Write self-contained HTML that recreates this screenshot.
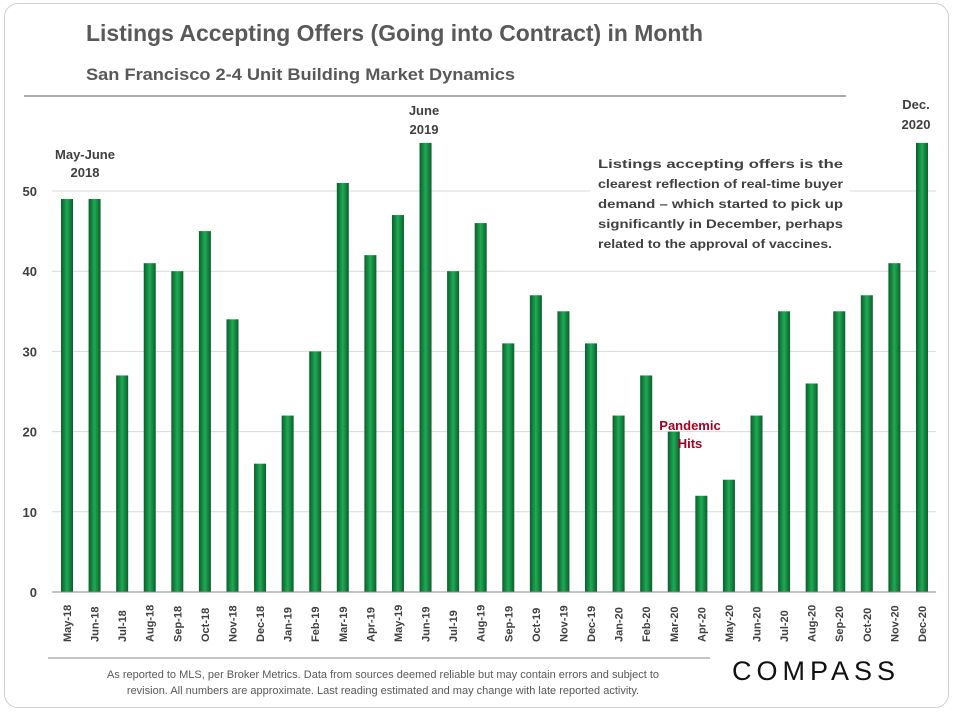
<!DOCTYPE html>
<html><head><meta charset="utf-8">
<style>
body{margin:0;background:#fff;width:953px;height:712px;overflow:hidden;font-family:"Liberation Sans",sans-serif;}
#frame{position:absolute;left:4px;top:3px;width:943px;height:703px;border:1px solid #cfcfcf;border-radius:14px;}
</style></head><body>
<div id="frame"></div>
<svg width="953" height="712" style="position:absolute;left:0;top:0">
<defs>
<linearGradient id="g" x1="0" x2="1" y1="0" y2="0">
<stop offset="0" stop-color="#0a5e2a"/><stop offset="0.5" stop-color="#1faa55"/><stop offset="1" stop-color="#0a5e2a"/>
</linearGradient>
</defs>
<text x="86" y="41" font-size="23" font-weight="bold" fill="#595959" textLength="617" lengthAdjust="spacingAndGlyphs">Listings Accepting Offers (Going into Contract) in Month</text>
<text x="86" y="80" font-size="17" font-weight="bold" fill="#595959" textLength="429" lengthAdjust="spacingAndGlyphs">San Francisco 2-4 Unit Building Market Dynamics</text>
<line x1="24" y1="96" x2="846" y2="96" stroke="#595959" stroke-width="1"/>
<g id="grid"></g>
<rect x="590" y="150" width="260" height="105" fill="#fff"/>
<g id="bars"></g>
<g id="xlabels"></g>
<g id="ylabels"></g>
<line x1="52" y1="592" x2="936" y2="592" stroke="#888" stroke-width="1"/>
<g font-size="12" font-weight="bold" fill="#404040">
<text x="598" y="168" textLength="245" lengthAdjust="spacingAndGlyphs">Listings accepting offers is the</text>
<text x="598" y="188" textLength="245" lengthAdjust="spacingAndGlyphs">clearest reflection of real-time buyer</text>
<text x="598" y="208" textLength="245" lengthAdjust="spacingAndGlyphs">demand – which started to pick up</text>
<text x="598" y="228" textLength="245" lengthAdjust="spacingAndGlyphs">significantly in December, perhaps</text>
<text x="598" y="248" textLength="234" lengthAdjust="spacingAndGlyphs">related to the approval of vaccines.</text>
</g>
<g font-size="13" font-weight="bold" fill="#404040" text-anchor="middle">
<text x="85" y="159">May-June</text>
<text x="85" y="177">2018</text>
<text x="424" y="115">June</text>
<text x="424" y="134">2019</text>
<text x="916" y="109">Dec.</text>
<text x="916" y="129">2020</text>
<text x="690" y="430" fill="#a50021">Pandemic</text>
<text x="690" y="448" fill="#a50021">Hits</text>
</g>
<line x1="48" y1="658" x2="710" y2="658" stroke="#888" stroke-width="1"/>
<g font-size="11" fill="#595959" text-anchor="middle">
<text x="383" y="678">As reported to MLS, per Broker Metrics. Data from sources deemed reliable but may contain errors and subject to</text>
<text x="383" y="694">revision. All numbers are approximate.  Last reading estimated and may change with late reported activity.</text>
</g>
<text x="816" y="680" font-size="27" fill="#111" text-anchor="middle" letter-spacing="5">COMPASS</text>
</svg>
<script>
const categories=["May-18","Jun-18","Jul-18","Aug-18","Sep-18","Oct-18","Nov-18","Dec-18","Jan-19","Feb-19","Mar-19","Apr-19","May-19","Jun-19","Jul-19","Aug-19","Sep-19","Oct-19","Nov-19","Dec-19","Jan-20","Feb-20","Mar-20","Apr-20","May-20","Jun-20","Jul-20","Aug-20","Sep-20","Oct-20","Nov-20","Dec-20"];
const values=[49,49,27,41,40,45,34,16,22,30,51,42,47,56,40,46,31,37,35,31,22,27,20,12,14,22,35,26,35,37,41,56];
const yTicks=[0,10,20,30,40,50];
const NS="http://www.w3.org/2000/svg";
function y(v){return 592-v*8.02;}
function x(i){return 67+i*27.58;}
const grid=document.getElementById('grid'),bars=document.getElementById('bars'),xl=document.getElementById('xlabels'),yl=document.getElementById('ylabels');
yTicks.forEach(t=>{
 if(t>0){const l=document.createElementNS(NS,'line');
 l.setAttribute('x1',52);l.setAttribute('x2',936);l.setAttribute('y1',y(t));l.setAttribute('y2',y(t));
 l.setAttribute('stroke','#d9d9d9');
 
 
 grid.appendChild(l);}
 const tx=document.createElementNS(NS,'text');
 tx.setAttribute('x',37);tx.setAttribute('y',y(t)+5);tx.setAttribute('text-anchor','end');
 tx.setAttribute('font-size','13');tx.setAttribute('font-weight','bold');tx.setAttribute('fill','#404040');
 tx.textContent=t;
 
 
 yl.appendChild(tx);
});
values.forEach((v,i)=>{
 const r=document.createElementNS(NS,'rect');
 r.setAttribute('x',x(i)-6);r.setAttribute('width',12);r.setAttribute('y',y(v));r.setAttribute('height',592-y(v));
 r.setAttribute('fill','url(#g)');
 
 
 bars.appendChild(r);
 const t=document.createElementNS(NS,'text');
 t.setAttribute('transform','translate('+(x(i)+4)+',642) rotate(-90)');
 t.setAttribute('font-size','11');t.setAttribute('font-weight','bold');t.setAttribute('fill','#404040');
 t.textContent=categories[i];
 
 
 xl.appendChild(t);
});
</script>
</body></html>
